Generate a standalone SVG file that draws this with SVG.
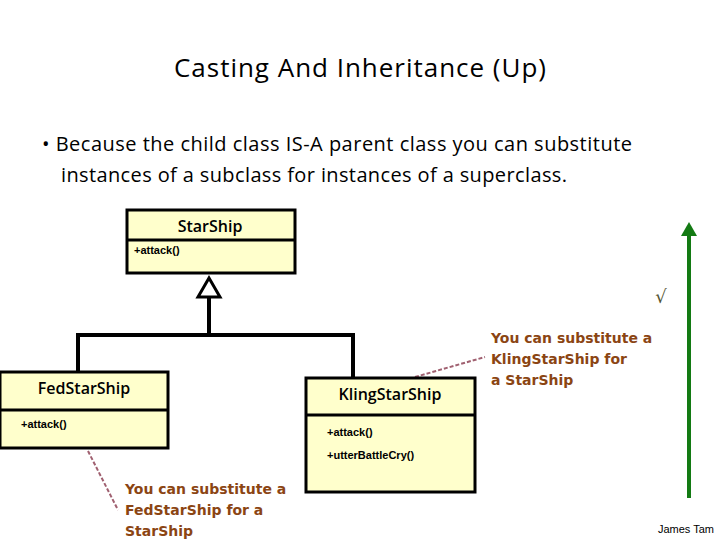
<svg xmlns="http://www.w3.org/2000/svg" width="720" height="540" viewBox="0 0 720 540">
<style>
.box{fill:#ffffcc;stroke:#000;stroke-width:3}
.ln{fill:none;stroke:#000;stroke-width:4}
.cls{font-family:"Open Sans","Liberation Sans",sans-serif;font-weight:600;font-size:16px;fill:#000}
.op{font-family:"Liberation Sans",sans-serif;font-weight:bold;font-size:11px;fill:#000}
.note{font-family:"DejaVu Sans",sans-serif;font-weight:bold;font-size:14px;fill:#8b4513}
.t{font-family:"Open Sans","Noto Sans",sans-serif;fill:#000}
</style>
<rect width="720" height="540" fill="#fff"/>
<text class="t" x="360" y="77" font-size="26" text-anchor="middle" textLength="372">Casting And Inheritance (Up)</text>
<text class="t" x="42" y="151" font-size="20" textLength="590">• Because the child class IS-A parent class you can substitute</text>
<text class="t" x="61" y="182" font-size="20" textLength="506">instances of a subclass for instances of a superclass.</text>
<g id="connectors">
<polyline class="ln" points="209,297 209,335"/>
<polyline class="ln" points="78,371 78,335 353,335 353,377"/>
<polygon points="209,278 198,297 220,297" fill="#fff" stroke="#000" stroke-width="3"/>
<line x1="88" y1="451" x2="118" y2="510" stroke="#a06070" stroke-width="2" stroke-dasharray="4,2"/>
<line x1="415" y1="377" x2="485" y2="357" stroke="#a06070" stroke-width="2" stroke-dasharray="4,2"/>
<line x1="689" y1="498" x2="689" y2="236" stroke="#137a13" stroke-width="4"/>
<polygon points="689,222 681,236 697,236" fill="#137a13"/>
</g>
<g id="StarShip">
<rect class="box" x="127" y="210" width="168" height="63"/>
<line x1="127" y1="240" x2="295" y2="240" stroke="#000" stroke-width="3"/>
<text class="cls" x="210" y="232" text-anchor="middle">StarShip</text>
<text class="op" x="134" y="254">+attack()</text>
</g>
<g id="FedStarShip">
<rect class="box" x="0" y="372" width="168" height="76"/>
<line x1="0" y1="410" x2="168" y2="410" stroke="#000" stroke-width="3"/>
<text class="cls" x="84" y="394" text-anchor="middle">FedStarShip</text>
<text class="op" x="21" y="428">+attack()</text>
</g>
<g id="KlingStarShip">
<rect class="box" x="306" y="378" width="169" height="114"/>
<line x1="306" y1="415" x2="475" y2="415" stroke="#000" stroke-width="3"/>
<text class="cls" x="390" y="400" text-anchor="middle">KlingStarShip</text>
<text class="op" x="327" y="436">+attack()</text>
<text class="op" x="327" y="459">+utterBattleCry()</text>
</g>
<g id="notes">
<text class="note" x="125" y="494">You can substitute a</text>
<text class="note" x="125" y="515">FedStarShip for a</text>
<text class="note" x="125" y="536">StarShip</text>
<text class="note" x="491" y="343">You can substitute a</text>
<text class="note" x="491" y="364">KlingStarShip for</text>
<text class="note" x="491" y="385">a StarShip</text>
<text x="661" y="303" font-family="DejaVu Sans,sans-serif" font-size="18" fill="#555533" text-anchor="middle">√</text>
<text x="686" y="533" font-family="Liberation Sans,sans-serif" font-size="11" fill="#000" text-anchor="middle">James Tam</text>
</g>
</svg>
